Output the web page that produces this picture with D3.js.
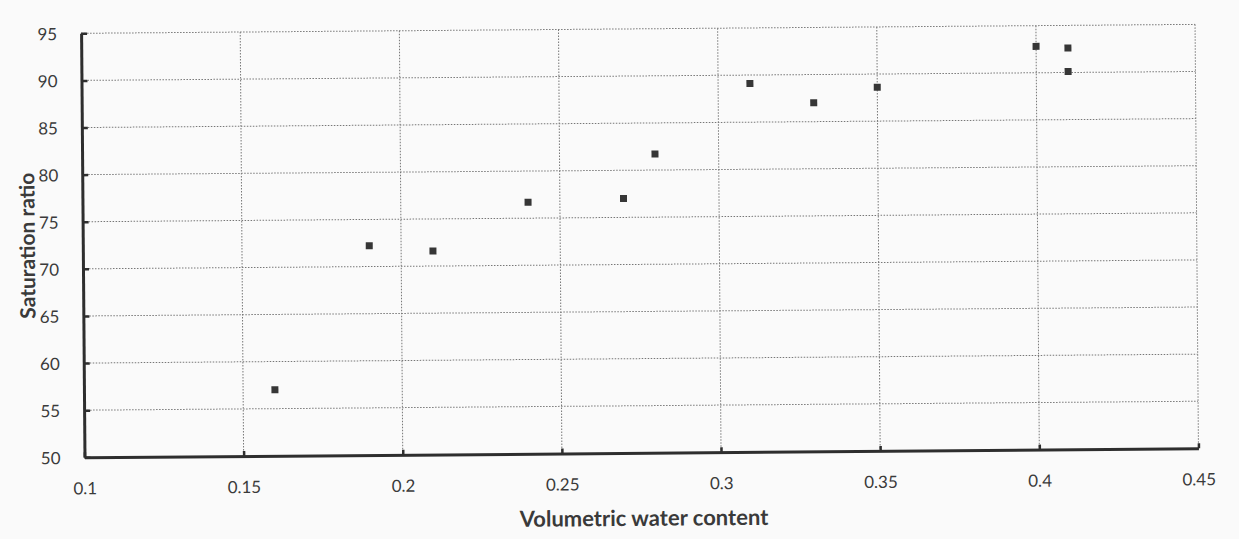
<!DOCTYPE html>
<html>
<head>
<meta charset="utf-8">
<script src="https://cdn.jsdelivr.net/npm/d3@7/dist/d3.min.js"></script>
<style>
  html, body { margin: 0; padding: 0; background: #fafafa; }
  svg { display: block; }
  text { font-family: Lato, "Open Sans", sans-serif; fill: #3a3a3a; }
</style>
</head>
<body>
<svg id="chart"></svg>
<script>
// --- Data ---
const waterContent = [0.16, 0.19, 0.21, 0.24, 0.27, 0.28, 0.31, 0.33, 0.35, 0.40, 0.41, 0.41];
const saturation   = [57.0, 72.2, 71.6, 76.7, 77.0, 81.7, 89.1, 87.0, 88.6, 92.8, 92.6, 90.1];
const xTicks = [0.1, 0.15, 0.2, 0.25, 0.3, 0.35, 0.4, 0.45];
const yTicks = [50, 55, 60, 65, 70, 75, 80, 85, 90, 95];

// --- Layout ---
const W = 1239, H = 539;
const margin = { top: 29, right: 42, bottom: 86, left: 83 };
const width = W - margin.left - margin.right;
const height = H - margin.top - margin.bottom;

const svg = d3.select("#chart").attr("width", W).attr("height", H);

// the original is a slightly tilted scan, so the whole figure is turned a little
const root = svg.append("g")
    .attr("transform", `rotate(-0.46, ${W / 2}, ${H / 2})`);

const g = root.append("g")
    .attr("transform", `translate(${margin.left},${margin.top})`);

// --- Scales ---
const x = d3.scaleLinear().domain([0.1, 0.45]).range([0, width]);
const y = d3.scaleLinear().domain([50, 95]).range([height, 0]);

// --- Dotted grid (also forms the top and right border) ---
g.append("g")
    .selectAll("line")
    .data(yTicks.filter(d => d > 50))
    .join("line")
    .attr("x1", 0).attr("x2", width)
    .attr("y1", d => y(d)).attr("y2", d => y(d))
    .attr("stroke", "#777")
    .attr("stroke-width", 1)
    .attr("stroke-dasharray", "1.5,1.5");

g.append("g")
    .selectAll("line")
    .data(xTicks.filter(d => d > 0.1))
    .join("line")
    .attr("x1", d => x(d)).attr("x2", d => x(d))
    .attr("y1", 0).attr("y2", height)
    .attr("stroke", "#777")
    .attr("stroke-width", 1)
    .attr("stroke-dasharray", "1.5,1.5");

// --- Axes ---
const xAxis = g.append("g")
    .attr("transform", `translate(0,${height})`)
    .call(d3.axisBottom(x).tickValues(xTicks).tickFormat(d => d3.format("")(+d.toFixed(2)))
        .tickSizeInner(-5).tickSizeOuter(0).tickPadding(25));

const yAxis = g.append("g")
    .call(d3.axisLeft(y).tickValues(yTicks)
        .tickSizeInner(-6).tickSizeOuter(0).tickPadding(24));

[xAxis, yAxis].forEach(ax => {
    ax.select(".domain").attr("stroke", "#2e2e2e").attr("stroke-width", 3);
    ax.selectAll(".tick line").attr("stroke", "#2e2e2e").attr("stroke-width", 2.5);
    ax.selectAll(".tick text")
        .style("font-size", "17px")
        .style("font-family", "Lato, 'Open Sans', sans-serif")
        .attr("fill", "#444");
});
yAxis.selectAll(".tick text").attr("dy", "0.36em");

// --- Points ---
g.append("g")
    .selectAll("rect")
    .data(waterContent.map((d, i) => ({ wc: d, sr: saturation[i] })))
    .join("rect")
    .attr("x", d => x(d.wc) - 3.5)
    .attr("y", d => y(d.sr) - 3.5)
    .attr("width", 7)
    .attr("height", 7)
    .attr("fill", "#363636");

// --- Axis titles ---
g.append("text")
    .attr("x", width / 2 + 2)
    .attr("y", height + 73)
    .attr("text-anchor", "middle")
    .style("font-size", "22px")
    .style("font-weight", "bold")
    .text("Volumetric water content");

g.append("text")
    .attr("transform", `translate(${-48},${height / 2}) rotate(-90)`)
    .attr("text-anchor", "middle")
    .style("font-size", "21px")
    .style("font-weight", "bold")
    .text("Saturation ratio");
</script>
</body>
</html>
